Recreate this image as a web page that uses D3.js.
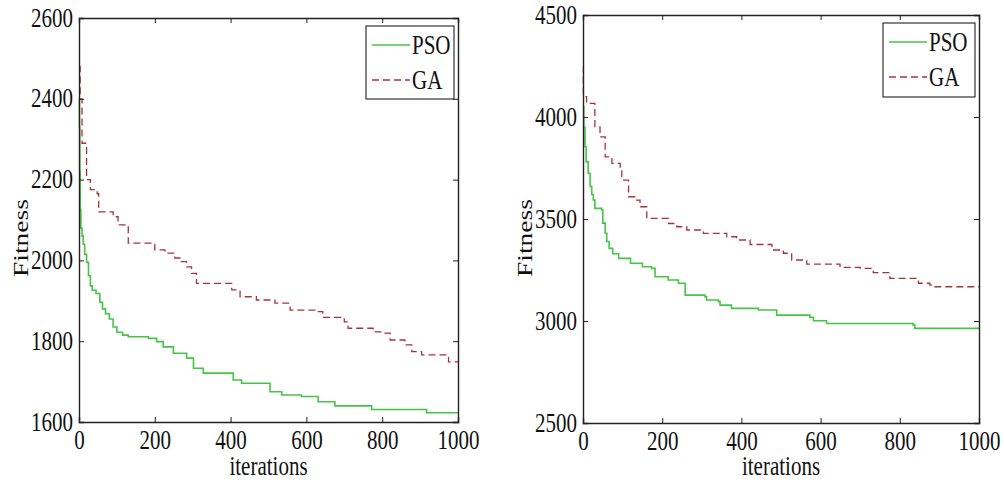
<!DOCTYPE html>
<html>
<head>
<meta charset="utf-8">
<script src="https://cdn.jsdelivr.net/npm/d3@7"></script>
<style>
  body { margin: 0; background: #fff; }
  text { font-family: "Liberation Serif", "Times New Roman", serif; fill: #111; }
</style>
</head>
<body>
<div id="chart"></div>
<script>
// ---- data ----
var xTicks = [0, 200, 400, 600, 800, 1000];

// left panel
var leftYTicks = [1600, 1800, 2000, 2200, 2400, 2600];
var leftPsoIter = [0, 1, 2, 3, 5, 8, 11, 15, 20, 25, 30, 35, 45, 55, 62, 70, 80, 90, 100, 115, 130, 183, 205, 222, 249, 284, 302, 328, 407, 429, 504, 535, 587, 631, 675, 772, 917, 1000];
var leftPsoFit  = [2400, 2330, 2220, 2125, 2080, 2060, 2040, 2015, 1995, 1962, 1937, 1926, 1918, 1896, 1880, 1868, 1855, 1835, 1822, 1815, 1811, 1807, 1799, 1786, 1770, 1758, 1733, 1721, 1704, 1696, 1675, 1667, 1663, 1650, 1640, 1631, 1623, 1623];
var leftGaIter  = [0, 3, 8, 20, 30, 48, 52, 90, 103, 130, 200, 227, 253, 270, 284, 297, 310, 403, 425, 468, 517, 557, 631, 643, 700, 710, 776, 803, 821, 860, 878, 904, 975, 1000];
var leftGaFit   = [2480, 2400, 2290, 2200, 2175, 2165, 2120, 2108, 2088, 2043, 2026, 2018, 2006, 1997, 1984, 1968, 1943, 1927, 1910, 1902, 1894, 1877, 1873, 1859, 1848, 1832, 1823, 1820, 1803, 1791, 1774, 1766, 1749, 1749];

// right panel
var rightYTicks = [2500, 3000, 3500, 4000, 4500];
var rightPsoIter = [0, 2, 5, 8, 13, 18, 22, 26, 30, 47, 50, 56, 60, 66, 75, 90, 120, 150, 173, 182, 215, 241, 258, 308, 312, 342, 346, 375, 443, 489, 573, 582, 615, 834, 838, 1000];
var rightPsoFit  = [4050, 3950, 3854, 3780, 3724, 3660, 3620, 3593, 3552, 3544, 3480, 3430, 3390, 3356, 3330, 3307, 3283, 3266, 3258, 3217, 3201, 3185, 3127, 3119, 3103, 3095, 3078, 3062, 3054, 3029, 3018, 3001, 2988, 2980, 2964, 2964];
var rightGaIter  = [0, 1, 9, 30, 43, 56, 73, 94, 98, 115, 131, 144, 161, 216, 237, 262, 304, 363, 388, 422, 477, 506, 527, 565, 649, 700, 733, 775, 847, 876, 889, 1000];
var rightGaFit   = [4250, 4100, 4067, 3952, 3903, 3805, 3773, 3740, 3691, 3609, 3593, 3560, 3503, 3478, 3462, 3446, 3430, 3413, 3397, 3375, 3348, 3332, 3299, 3279, 3263, 3258, 3237, 3209, 3185, 3176, 3168, 3168];

var seriesNames = ["PSO", "GA"];
var psoColor = "#47c447";
var gaColor = "#a8323c";
var stretch = "scale(1,1.25)";
var fontSize = "21px";

function zipSeries(iters, vals) {
    return iters.map(function (d, i) { return {it: d, v: vals[i]}; });
}

function drawPanel(svg, box, yDomain, yTicks, pso, ga, legendBox) {

    var x = d3.scaleLinear().domain([0, 1000]).range([box.left, box.right]);
    var y = d3.scaleLinear().domain(yDomain).range([box.bottom, box.top]);

    var g = svg.append("g");

    // curves
    var line = d3.line()
        .x(function (d) { return x(d.it); })
        .y(function (d) { return y(d.v); })
        .curve(d3.curveStepAfter);

    g.append("path")
        .datum(ga)
        .attr("d", line)
        .attr("fill", "none")
        .attr("stroke", gaColor)
        .attr("stroke-width", 1.3)
        .attr("stroke-dasharray", "7,4");

    g.append("path")
        .datum(pso)
        .attr("d", line)
        .attr("fill", "none")
        .attr("stroke", psoColor)
        .attr("stroke-width", 1.6);

    // axes, ticks inward on all four sides
    var xBottom = g.append("g")
        .attr("transform", `translate(0, ${box.bottom})`)
        .call(d3.axisBottom(x).tickValues(xTicks).tickSize(-5).tickFormat(d3.format("d")));
    xBottom.selectAll("text")
        .attr("y", null).attr("dy", null)
        .attr("transform", "translate(0,27) " + stretch)
        .style("font-size", fontSize);

    g.append("g")
        .attr("transform", `translate(0, ${box.top})`)
        .call(d3.axisTop(x).tickValues(xTicks).tickSize(-5).tickFormat(""));

    var yLeft = g.append("g")
        .attr("transform", `translate(${box.left}, 0)`)
        .call(d3.axisLeft(y).tickValues(yTicks).tickSize(-5).tickFormat(d3.format("d")));
    yLeft.selectAll("text")
        .attr("x", null).attr("dy", null)
        .attr("transform", "translate(-6,8) " + stretch)
        .style("font-size", fontSize);

    g.append("g")
        .attr("transform", `translate(${box.right}, 0)`)
        .call(d3.axisRight(y).tickValues(yTicks).tickSize(-5).tickFormat(""));

    g.selectAll(".domain").attr("stroke", "#222").attr("stroke-width", 1.4);
    g.selectAll(".tick line").attr("stroke", "#222");
    g.selectAll(".tick text").attr("fill", "#111").style("font-family", "Liberation Serif, serif");

    // axis labels
    g.append("text")
        .attr("text-anchor", "middle")
        .attr("transform", `translate(${(box.left + box.right) / 2}, 475) ` + stretch)
        .style("font-size", fontSize)
        .text("iterations");

    g.append("text")
        .attr("text-anchor", "middle")
        .attr("transform", `translate(${box.left - 51}, 238) rotate(-90) scale(1.25,1)`)
        .style("font-size", "22px")
        .text("Fitness");

    // legend
    var lg = g.append("g");
    lg.append("rect")
        .attr("x", legendBox.x).attr("y", legendBox.y)
        .attr("width", legendBox.w).attr("height", legendBox.h)
        .attr("fill", "#fff").attr("stroke", "#222").attr("stroke-width", 1.1);

    seriesNames.forEach(function (name, i) {
        var cy = legendBox.y + 19 + i * 35;
        lg.append("line")
            .attr("x1", legendBox.x + 6).attr("x2", legendBox.x + 44)
            .attr("y1", cy).attr("y2", cy)
            .attr("stroke", i == 0 ? psoColor : gaColor)
            .attr("stroke-width", 1.4)
            .attr("stroke-dasharray", i == 0 ? null : "7,4");
        lg.append("text")
            .attr("transform", `translate(${legendBox.x + 46}, ${cy + 9}) ` + stretch)
            .style("font-size", fontSize)
            .text(name);
    });
}

function main() {
    var svg = d3.select("#chart")
        .append("svg")
        .attr("width", 1004)
        .attr("height", 486);

    drawPanel(svg, {left: 79, right: 458, top: 18, bottom: 422},
        [1600, 2600], leftYTicks,
        zipSeries(leftPsoIter, leftPsoFit), zipSeries(leftGaIter, leftGaFit),
        {x: 366, y: 26, w: 88, h: 73});

    drawPanel(svg, {left: 583, right: 979, top: 15, bottom: 423},
        [2500, 4500], rightYTicks,
        zipSeries(rightPsoIter, rightPsoFit), zipSeries(rightGaIter, rightGaFit),
        {x: 883, y: 23, w: 92, h: 74});
}

main();
</script>
</body>
</html>
